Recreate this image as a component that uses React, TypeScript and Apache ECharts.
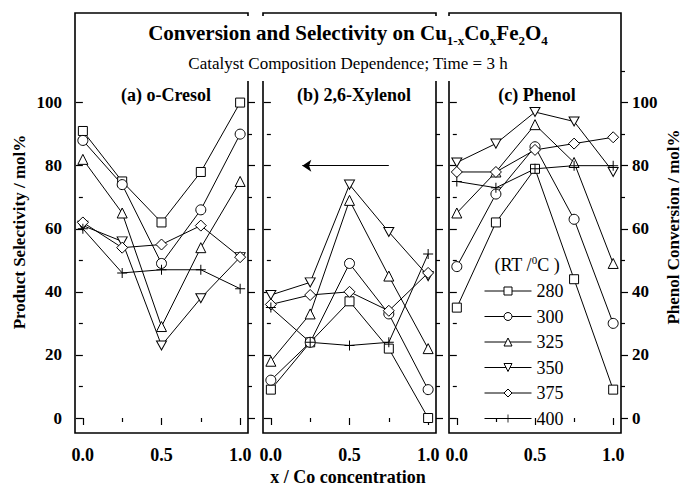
import React, { useEffect, useRef } from "react";
import * as echarts from "echarts";

// ---------- data ----------
const temperatures = ["280", "300", "325", "350", "375", "400"];
const coConcentration = [0, 0.25, 0.5, 0.75, 1.0];

// (a) o-Cresol selectivity, one row per temperature (280 .. 400 °C)
const oCresolSelectivity = [
  [91, 75, 62, 78, 100],
  [88, 74, 49, 66, 90],
  [82, 65, 29, 54, 75],
  [61, 56, 23, 38, 51],
  [62, 54, 55, 61, 51],
  [60, 46, 47, 47, 41],
];
// (b) 2,6-Xylenol selectivity
const xylenolSelectivity = [
  [9, 24, 37, 22, 0],
  [12, 24, 49, 33, 9],
  [18, 33, 69, 45, 22],
  [39, 43, 74, 59, 45],
  [36, 39, 40, 34, 46],
  [35, 24, 23, 24, 52],
];
// (c) Phenol conversion
const phenolConversion = [
  [35, 62, 79, 44, 9],
  [48, 71, 86, 63, 30],
  [65, 78, 93, 81, 49],
  [81, 87, 97, 94, 78],
  [78, 78, 85, 87, 89],
  [75, 73, 79, 80, 80],
];

const xMajorTicks = [0, 0.5, 1.0];
const xMinorTicks = [0.25, 0.75];
const yMajorTicks = [0, 20, 40, 60, 80, 100];
const yMinorTicks = [10, 30, 50, 70, 90, 110];

const arrowFrom = [0.75, 80];
const arrowTo = [0.2, 80];

const panelLabels = ["(a) o-Cresol", "(b) 2,6-Xylenol", "(c) Phenol"];

// ---------- layout / style ----------
const FAMILY = "Liberation Serif";
const TOP = 13;
const HEIGHT = 420;
const YMIN = -4.75;
const YMAX = 128.4;
const XMIN = -0.05;
const XMAX = 1.05;
const panelRects = [
  { left: 75, width: 173 },
  { left: 263, width: 173 },
  { left: 449, width: 172 },
];
const panelLabelX = [166, 354, 537];
const symbols = [
  "rect",
  "circle",
  "triangle",
  "path://M0,0L10,0L5,9Z",
  "diamond",
  "path://M4.5,0L5.5,0L5.5,4.5L10,4.5L10,5.5L5.5,5.5L5.5,10L4.5,10L4.5,5.5L0,5.5L0,4.5L4.5,4.5Z",
];
const symbolSizes: any[] = [9, 10, 10, [10, 9], 11, 10];

export default function App() {
  const ref = useRef<HTMLDivElement>(null);

  useEffect(() => {
    if (!ref.current) return;
    const chart = echarts.init(ref.current, undefined, { renderer: "svg" });
    const panelData = [oCresolSelectivity, xylenolSelectivity, phenolConversion];

    const grid: any[] = [];
    panelRects.forEach((r) =>
      grid.push({
        left: r.left,
        top: TOP,
        width: r.width,
        height: HEIGHT,
        show: true,
        borderColor: "#000",
        borderWidth: 1.6,
        backgroundColor: "transparent",
      })
    );
    panelRects.forEach((r) =>
      grid.push({ left: r.left, top: TOP, width: r.width, height: HEIGHT, show: false })
    );

    const tickStyle = { color: "#000", width: 1.2 };
    const xAxis: any[] = [];
    panelRects.forEach((_, i) =>
      xAxis.push({
        type: "value",
        gridIndex: i,
        min: XMIN,
        max: XMAX,
        axisLine: { show: false },
        splitLine: { show: false },
        axisTick: { show: true, customValues: xMajorTicks, length: 7, lineStyle: tickStyle },
        axisLabel: {
          customValues: xMajorTicks,
          formatter: (v: number) => v.toFixed(1),
          color: "#000",
          fontFamily: FAMILY,
          fontWeight: "bold",
          fontSize: 18,
          margin: 13,
        },
      })
    );
    panelRects.forEach((_, i) =>
      xAxis.push({
        type: "value",
        gridIndex: 3 + i,
        min: XMIN,
        max: XMAX,
        axisLine: { show: false },
        splitLine: { show: false },
        axisTick: { show: true, customValues: xMinorTicks, length: 4, lineStyle: tickStyle },
        axisLabel: { show: false },
      })
    );

    const yAxis: any[] = [];
    const yLabel = (show: boolean, margin: number) => ({
      show,
      customValues: yMajorTicks,
      color: "#000",
      fontFamily: FAMILY,
      fontWeight: "bold",
      fontSize: 17,
      margin,
    });
    panelRects.forEach((_, i) => {
      yAxis.push({
        type: "value",
        gridIndex: i,
        position: "left",
        min: YMIN,
        max: YMAX,
        axisLine: { show: false },
        splitLine: { show: false },
        axisTick: { show: true, customValues: yMajorTicks, length: 7, lineStyle: tickStyle },
        axisLabel: yLabel(i === 0, 13),
      });
      yAxis.push({
        type: "value",
        gridIndex: i,
        position: "right",
        min: YMIN,
        max: YMAX,
        axisLine: { show: false },
        splitLine: { show: false },
        axisTick: { show: true, customValues: yMajorTicks, length: 7, lineStyle: tickStyle },
        axisLabel: yLabel(i === 2, 11),
      });
    });
    panelRects.forEach((_, i) => {
      ["left", "right"].forEach((pos) =>
        yAxis.push({
          type: "value",
          gridIndex: 3 + i,
          position: pos,
          min: YMIN,
          max: YMAX,
          axisLine: { show: false },
          splitLine: { show: false },
          axisTick: { show: true, customValues: yMinorTicks, length: 4, lineStyle: tickStyle },
          axisLabel: { show: false },
        })
      );
    });

    const series: any[] = [];
    panelData.forEach((rows, i) => {
      rows.forEach((vals, j) => {
        const isPlus = j === 5;
        const s: any = {
          type: "line",
          name: temperatures[j],
          xAxisIndex: i,
          yAxisIndex: 2 * i,
          data: coConcentration.map((x, k) => [x, vals[k]]),
          symbol: symbols[j],
          symbolSize: symbolSizes[j],
          showAllSymbol: true,
          itemStyle: isPlus
            ? { color: "#000", borderWidth: 0 }
            : { color: "#fff", borderColor: "#000", borderWidth: 1 },
          lineStyle: { color: "#000", width: 1 },
          emphasis: { disabled: true },
          silent: true,
        };
        if (i === 1 && j === 0) {
          s.markLine = {
            silent: true,
            symbol: ["none", "arrow"],
            symbolSize: 9,
            label: { show: false },
            lineStyle: { color: "#000", width: 1.2, type: "solid" },
            emphasis: { disabled: true },
            data: [[{ coord: arrowFrom }, { coord: arrowTo }]],
          };
        }
        series.push(s);
      });
    });

    const textBase = { fontFamily: FAMILY, fill: "#000", align: "center", verticalAlign: "middle" };
    const graphic: any[] = [
      {
        type: "rect",
        z: 100,
        silent: true,
        shape: { x: 77, y: 16, width: 542, height: 65 },
        style: { fill: "#fff" },
      },
      {
        type: "text",
        z: 101,
        x: 348,
        y: 33,
        style: {
          ...textBase,
          text: "Conversion and Selectivity on Cu{sub|1-x}Co{sub|x}Fe{sub|2}O{sub|4}",
          fontWeight: "bold",
          fontSize: 21,
          lineHeight: 28,
          rich: {
            sub: {
              fontSize: 13,
              fontWeight: "bold",
              fontFamily: FAMILY,
              verticalAlign: "bottom",
              lineHeight: 13,
            },
          },
        },
      },
      {
        type: "text",
        z: 101,
        x: 348,
        y: 63,
        style: { ...textBase, text: "Catalyst Composition Dependence; Time = 3 h", fontSize: 17 },
      },
      ...panelLabels.map((t, i) => ({
        type: "text",
        z: 101,
        x: panelLabelX[i],
        y: 95,
        style: { ...textBase, text: t, fontWeight: "bold", fontSize: 18 },
      })),
      {
        type: "text",
        z: 101,
        x: 19,
        y: 232,
        rotation: Math.PI / 2,
        style: { ...textBase, text: "Product Selectivity / mol%", fontWeight: "bold", fontSize: 17 },
      },
      {
        type: "text",
        z: 101,
        x: 673,
        y: 227,
        rotation: Math.PI / 2,
        style: { ...textBase, text: "Phenol Conversion / mol%", fontWeight: "bold", fontSize: 17 },
      },
      {
        type: "text",
        z: 101,
        x: 348,
        y: 477,
        style: { ...textBase, text: "x / Co concentration", fontWeight: "bold", fontSize: 18 },
      },
      {
        type: "text",
        z: 101,
        x: 527,
        y: 265,
        style: {
          ...textBase,
          text: "(RT /{sup|0}C )",
          fontSize: 18,
          lineHeight: 22,
          rich: {
            sup: { fontSize: 11, fontFamily: FAMILY, verticalAlign: "top", lineHeight: 11 },
          },
        },
      },
    ];

    chart.setOption({
      animation: false,
      backgroundColor: "#fff",
      textStyle: { fontFamily: FAMILY },
      grid,
      xAxis,
      yAxis,
      series,
      graphic,
      legend: {
        data: temperatures,
        orient: "vertical",
        left: 484,
        top: 282,
        padding: 0,
        itemWidth: 47,
        itemHeight: 10,
        itemGap: 7.5,
        selectedMode: false,
        lineStyle: { width: 1, color: "#000" },
        itemStyle: { borderWidth: 1 },
        textStyle: { fontFamily: FAMILY, fontSize: 18, color: "#000", lineHeight: 18 },
      },
    });

    return () => chart.dispose();
  }, []);

  return (
    <div
      ref={ref}
      style={{ position: "fixed", left: 0, top: 0, width: 682, height: 491, background: "#fff" }}
    />
  );
}
